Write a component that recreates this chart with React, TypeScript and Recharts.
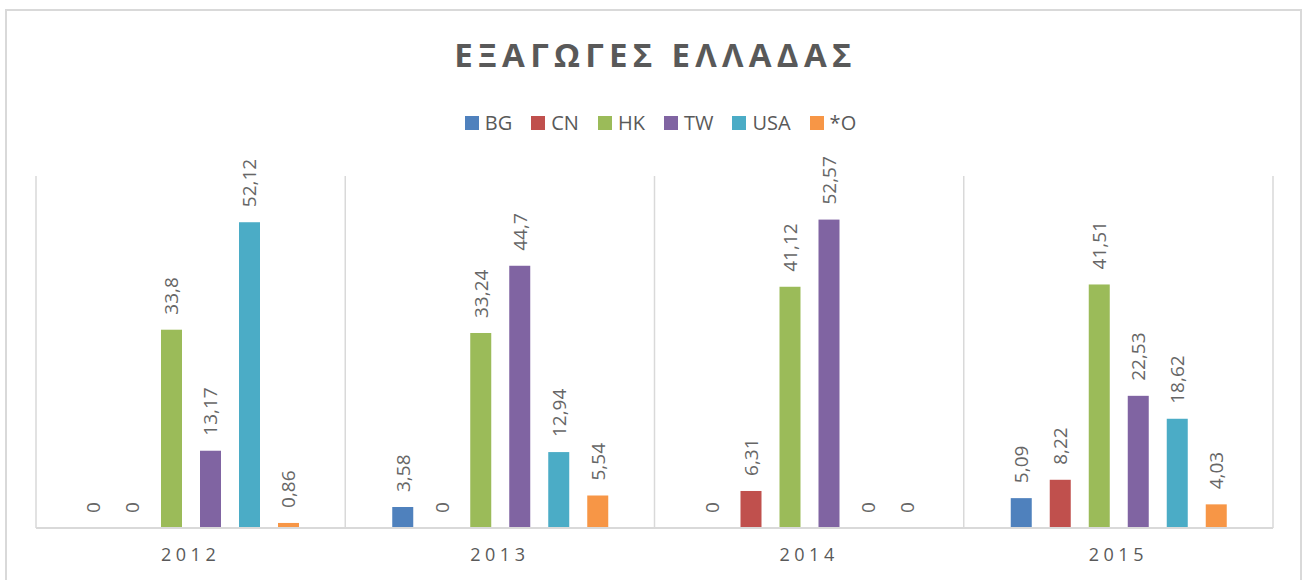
import { BarChart, Bar, XAxis, YAxis, CartesianGrid, LabelList } from "recharts";

const years = ["2012", "2013", "2014", "2015"];

const bg = [0, 3.58, 0, 5.09];
const cn = [0, 0, 6.31, 8.22];
const hk = [33.8, 33.24, 41.12, 41.51];
const tw = [13.17, 44.7, 52.57, 22.53];
const usa = [52.12, 12.94, 0, 18.62];
const other = [0.86, 5.54, 0, 4.03];

const seriesList = [
  { key: "BG", values: bg, color: "#4F81BD" },
  { key: "CN", values: cn, color: "#C0504D" },
  { key: "HK", values: hk, color: "#9BBB59" },
  { key: "TW", values: tw, color: "#8064A2" },
  { key: "USA", values: usa, color: "#4BACC6" },
  { key: "*O", values: other, color: "#F79646" },
];

const data = years.map((year, i) => {
  const row: Record<string, string | number> = { year };
  seriesList.forEach((s) => (row[s.key] = s.values[i]));
  return row;
});

const FONT = "'Open Sans', 'Noto Sans', sans-serif";
const GREY = "#595959";
const LINE = "#d9d9d9";

// rotated value label sitting just above the bar, comma as decimal mark
function ValueLabel(props: any) {
  const { x, y, width, height, value } = props;
  const cx = x + width / 2;
  const top = Math.min(y, y + height);
  const by = top - 15;
  return (
    <text
      x={cx}
      y={by}
      transform={`rotate(-90 ${cx} ${by})`}
      textAnchor="start"
      dominantBaseline="central"
      fill="#666"
      fontSize={19}
      fontFamily={FONT}
    >
      {String(value).replace(".", ",")}
    </text>
  );
}

// zero values still get a (tiny) rect so the label is placed; skip drawing it
function BarShape(props: any) {
  const { x, y, width, height, fill, value } = props;
  const v = Array.isArray(value) ? value[1] - value[0] : value;
  if (!v) return null;
  return <rect x={x} y={y} width={width} height={height} fill={fill} />;
}

export default function App() {
  return (
    <div style={{ position: "absolute", left: 0, top: 0, width: 1303, height: 580, overflow: "hidden", background: "#fff" }}>
      <div style={{ position: "absolute", left: 5, top: 9, width: 1293, height: 620, border: `2px solid ${LINE}` }} />
      <div
        style={{
          position: "absolute",
          left: 0,
          top: 32,
          width: 1303,
          textAlign: "center",
          fontFamily: FONT,
          fontWeight: 700,
          fontSize: 33,
          letterSpacing: 5.3,
          color: GREY,
          paddingLeft: 8,
          boxSizing: "border-box",
        }}
      >
        ΕΞΑΓΩΓΕΣ ΕΛΛΑΔΑΣ
      </div>
      <div
        style={{
          position: "absolute",
          left: 0,
          top: 109,
          width: 1303,
          display: "flex",
          justifyContent: "center",
          gap: 19,
          paddingLeft: 18,
          boxSizing: "border-box",
          fontFamily: FONT,
          fontSize: 20,
          color: GREY,
        }}
      >
        {seriesList.map((s) => (
          <div key={s.key} style={{ display: "flex", alignItems: "center", gap: 6 }}>
            <span style={{ width: 14, height: 14, background: s.color, display: "inline-block" }} />
            <span>{s.key}</span>
          </div>
        ))}
      </div>
      <div style={{ position: "absolute", left: 0, top: 0 }}>
        <BarChart
          width={1303}
          height={580}
          data={data}
          margin={{ top: 176, right: 30, bottom: 22, left: 36 }}
          barSize={21}
          barGap={18}
        >
          <CartesianGrid
            horizontal={false}
            stroke={LINE}
            strokeWidth={1.5}
            verticalCoordinatesGenerator={({ offset }: any) =>
              [0, 1, 2, 3, 4].map((i) => offset.left + (offset.width * i) / years.length)
            }
          />
          <XAxis
            dataKey="year"
            height={30}
            axisLine={{ stroke: LINE, strokeWidth: 2 }}
            tickLine={false}
            tick={{ fill: GREY, fontSize: 18, fontFamily: FONT, letterSpacing: 4.5 }}
            tickMargin={14}
          />
          <YAxis hide domain={[0, 60]} />
          {seriesList.map((s) => (
            <Bar
              key={s.key}
              dataKey={s.key}
              fill={s.color}
              minPointSize={0.01}
              shape={<BarShape />}
              isAnimationActive={false}
            >
              <LabelList dataKey={s.key} content={<ValueLabel />} />
            </Bar>
          ))}
        </BarChart>
      </div>
    </div>
  );
}
